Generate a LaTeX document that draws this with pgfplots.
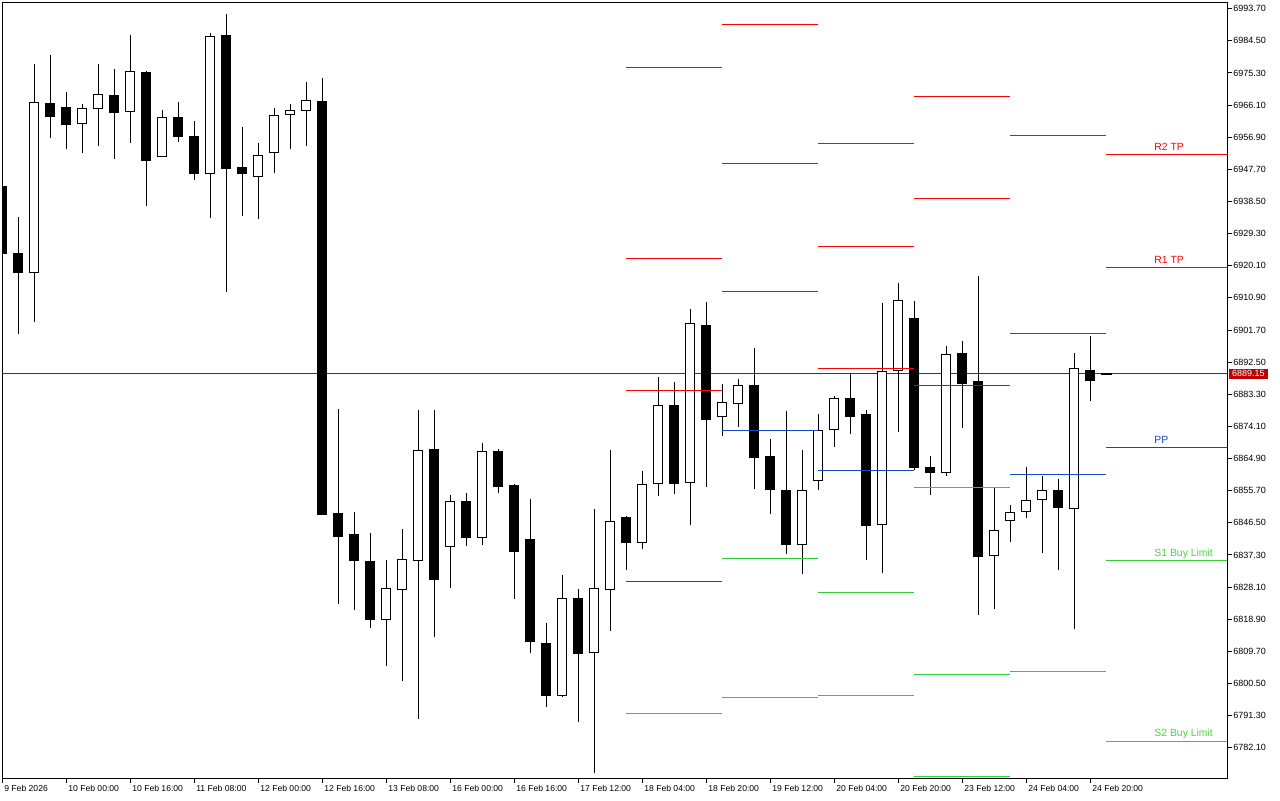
\documentclass[border=0pt]{standalone}
\usepackage{fontspec}
\setmainfont{Liberation Sans}
\usepackage{pgfplots}
\usepackage{pgfplotstable}
\pgfplotsset{compat=1.18}
\definecolor{pvred}{RGB}{255,0,0}
\definecolor{pvblue}{RGB}{16,72,200}
\definecolor{pvgreen}{RGB}{50,205,50}
\definecolor{lblgreen}{RGB}{70,215,60}
\definecolor{bidred}{RGB}{190,0,0}

% bearish candles: x o h l c
\pgfplotstableread{
x o h l c
0 6942.90 6942.90 6923.70 6923.70
1 6923.66 6934.06 6900.75 6918.11
3 6966.61 6980.44 6956.76 6963.06
4 6965.47 6969.85 6953.61 6960.77
7 6968.90 6976.43 6950.75 6963.92
9 6975.57 6975.86 6937.29 6950.46
11 6962.69 6966.98 6955.62 6957.05
12 6957.25 6961.54 6944.74 6946.74
14 6985.88 6992.18 6912.67 6947.89
15 6948.29 6959.83 6934.43 6946.45
20 6967.27 6973.86 6848.82 6848.82
21 6849.30 6879.08 6823.33 6842.52
22 6843.29 6849.88 6821.62 6835.64
23 6835.56 6843.58 6816.46 6819.04
27 6867.34 6878.79 6813.88 6830.20
29 6852.74 6855.03 6839.94 6842.52
31 6867.06 6867.63 6855.11 6857.12
32 6857.32 6857.61 6824.76 6838.22
33 6841.86 6853.31 6809.30 6812.74
34 6812.08 6817.81 6793.67 6796.99
36 6824.96 6827.54 6789.55 6809.30
39 6848.16 6848.45 6833.07 6841.08
42 6880.14 6886.81 6854.83 6857.69
44 6903.13 6909.72 6856.83 6876.30
47 6885.95 6896.55 6856.26 6865.42
48 6865.34 6870.49 6849.10 6855.97
49 6855.89 6878.51 6837.65 6840.51
53 6882.23 6889.39 6872.01 6877.16
54 6877.65 6878.79 6835.93 6845.95
57 6905.14 6910.00 6861.61 6862.27
58 6862.47 6865.62 6854.54 6861.04
60 6895.12 6898.84 6873.73 6886.61
61 6887.10 6917.16 6820.18 6836.79
66 6855.89 6859.04 6833.07 6850.82
68 6890.25 6900.27 6881.46 6887.47
}\bear

% bullish candles: x o h l c
\pgfplotstableread{
x o h l c
2 6918.22 6977.86 6904.08 6966.90
5 6960.89 6966.41 6952.47 6965.18
6 6965.18 6977.86 6954.47 6969.19
8 6964.32 6986.17 6955.33 6975.77
10 6951.44 6964.69 6951.44 6962.60
13 6946.57 6986.94 6933.86 6985.80
16 6945.71 6955.53 6933.57 6951.72
17 6952.58 6965.27 6946.74 6963.18
18 6963.46 6966.41 6953.61 6964.61
19 6964.61 6972.71 6954.47 6967.47
24 6818.87 6835.85 6805.58 6827.74
25 6827.46 6844.72 6801.28 6836.13
26 6835.76 6878.79 6790.40 6867.26
28 6839.77 6854.46 6827.91 6852.65
30 6842.34 6869.35 6840.22 6866.97
35 6797.11 6831.55 6796.82 6824.88
37 6809.42 6850.45 6774.77 6827.74
38 6827.46 6867.34 6815.60 6846.93
40 6840.91 6861.33 6839.08 6857.52
41 6857.81 6888.24 6854.26 6880.14
43 6858.09 6908.00 6845.95 6903.62
45 6876.99 6886.24 6871.43 6881.00
46 6880.71 6887.67 6874.01 6885.87
50 6840.34 6867.34 6831.92 6855.80
51 6858.67 6877.65 6855.97 6872.98
52 6873.27 6882.80 6868.29 6882.14
55 6846.07 6909.43 6832.21 6889.87
56 6890.16 6915.16 6872.58 6910.20
59 6860.96 6897.12 6859.98 6894.74
62 6837.19 6856.46 6821.90 6844.35
63 6847.21 6851.59 6841.08 6849.50
64 6849.79 6862.47 6847.96 6852.94
65 6853.22 6860.18 6837.93 6855.80
67 6850.65 6895.12 6816.17 6890.73
}\bull

% pivot levels: centre x, level, half length
\pgfplotstableread{
xm y hw
42 6976.92 3
42 6922.23 3
42 6884.44 3
48 6989.23 3
48 6949.43 3
48 6912.78 3
54 6955.16 3
54 6925.67 3
54 6890.73 3
60 6968.62 3
60 6939.41 3
66 6957.45 3
66 6900.76 3
72.8 6952.01 3.8
72.8 6919.65 3.8
}\redlevels

\pgfplotstableread{
xm y hw
42 6829.74 3
48 6873.02 3
54 6861.53 3
60 6885.87 3
66 6860.39 3
72.8 6868.12 3.8
}\bluelevels

\pgfplotstableread{
xm y hw
42 6791.95 3
48 6836.33 3
48 6796.53 3
54 6826.60 3
54 6797.11 3
60 6856.66 3
60 6803.12 3
60 6773.91 3
66 6803.98 3
72.8 6835.76 3.8
72.8 6783.93 3.8
}\greenlevels

\pgfplotsset{
  vbar/.style 2 args={draw=none, mark=none, error bars/.cd, y dir=both, y explicit, error mark=none,
    error bar style={draw=#1, line width=#2}},
  hbar/.style={draw=none, mark=none, error bars/.cd, x dir=both, x explicit, error mark=none,
    error bar style={draw=#1, line width=0.5pt}},
}

\begin{document}
\begin{tikzpicture}
\useasboundingbox (0,0) rectangle (640pt,-400pt);
\begin{axis}[
  at={(1pt,-1pt)}, anchor=north west,
  scale only axis, width=612.5pt, height=388pt,
  xmin=-0.02, xmax=76.54, ymin=6773.42, ymax=6995.62,
  axis line style={line width=0.5pt, black},
  tick style={line width=0.5pt, black},
  major tick length=2.5pt,
  tick align=outside,
  xtick pos=bottom, ytick pos=right,
  yticklabel pos=right,
  xtick={0,4,...,68},
  xticklabels={9 Feb 2026,10 Feb 00:00,10 Feb 16:00,11 Feb 08:00,12 Feb 00:00,12 Feb 16:00,13 Feb 08:00,16 Feb 00:00,16 Feb 16:00,17 Feb 12:00,18 Feb 04:00,18 Feb 20:00,19 Feb 12:00,20 Feb 04:00,20 Feb 20:00,23 Feb 12:00,24 Feb 04:00,24 Feb 20:00},
  ytick={6782.10,6791.30,6800.50,6809.70,6818.90,6828.10,6837.30,6846.50,6855.70,6864.90,6874.10,6883.30,6892.50,6901.70,6910.90,6920.10,6929.30,6938.50,6947.70,6956.90,6966.10,6975.30,6984.50,6993.70},
  yticklabels={6782.10,6791.30,6800.50,6809.70,6818.90,6828.10,6837.30,6846.50,6855.70,6864.90,6874.10,6883.30,6892.50,6901.70,6910.90,6920.10,6929.30,6938.50,6947.70,6956.90,6966.10,6975.30,6984.50,6993.70},
  yticklabel style={font=\fontsize{4.5}{5}\selectfont, anchor=west, inner sep=0pt, xshift=0.5pt},
  xticklabel style={font=\fontsize{4.3}{5}\selectfont, anchor=north west, inner sep=0pt, xshift=0.8pt, yshift=-1pt},
  /pgf/number format/assume math mode=true,
]
% bid line
\addplot[bidred, line width=0.5pt] coordinates {(-2,6889.15) (80,6889.15)};
% wicks
\addplot[vbar={black}{0.5pt}]
  table[x=x, y expr={(\thisrow{h}+\thisrow{l})/2}, y error expr={(\thisrow{h}-\thisrow{l})/2}] {\bear};
\addplot[vbar={black}{0.5pt}]
  table[x=x, y expr={(\thisrow{h}+\thisrow{l})/2}, y error expr={(\thisrow{h}-\thisrow{l})/2}] {\bull};
% bearish bodies
\addplot[vbar={black}{5pt}]
  table[x=x, y expr={(\thisrow{o}+\thisrow{c})/2}, y error expr={(\thisrow{o}-\thisrow{c})/2+0.14}] {\bear};
% bullish bodies: outline then fill
\addplot[vbar={black}{5pt}]
  table[x=x, y expr={(\thisrow{o}+\thisrow{c})/2}, y error expr={(\thisrow{c}-\thisrow{o})/2+0.14}] {\bull};
\addplot[vbar={white}{4pt}]
  table[x=x, y expr={(\thisrow{o}+\thisrow{c})/2}, y error expr={max((\thisrow{c}-\thisrow{o})/2-0.14,0)}] {\bull};
% pivot levels
\addplot[hbar=pvred] table[x=xm, y=y, x error=hw] {\redlevels};
\addplot[hbar=pvblue] table[x=xm, y=y, x error=hw] {\bluelevels};
\addplot[hbar=pvgreen] table[x=xm, y=y, x error=hw] {\greenlevels};
% current price dash
\addplot[black, line width=1pt] coordinates {(68.67,6889.15) (69.36,6889.15)};
\coordinate (lR2) at (axis cs:71.98,6954.19);
\coordinate (lR1) at (axis cs:71.98,6921.74);
\coordinate (lPP) at (axis cs:71.98,6870.20);
\coordinate (lS1) at (axis cs:71.98,6837.76);
\coordinate (lS2) at (axis cs:71.98,6785.94);
\coordinate (bid) at (axis cs:76.54,6889.15);
\end{axis}
\begin{scope}[every node/.style={anchor=west, inner sep=0pt, font=\fontsize{5.2}{6}\selectfont}]
\node[text=pvred] at (lR2) {R2 TP};
\node[text=pvred] at (lR1) {R1 TP};
\node[text=pvblue] at (lPP) {PP};
\node[text=lblgreen] at (lS1) {S1 Buy Limit};
\node[text=lblgreen] at (lS2) {S2 Buy Limit};
\end{scope}
\node[anchor=west, fill=bidred, text=white, inner sep=0pt, minimum width=19.5pt, minimum height=5pt, font=\fontsize{4.5}{5}\selectfont] at ([xshift=0.7pt]bid) {6889.15};
\end{tikzpicture}
\end{document}
